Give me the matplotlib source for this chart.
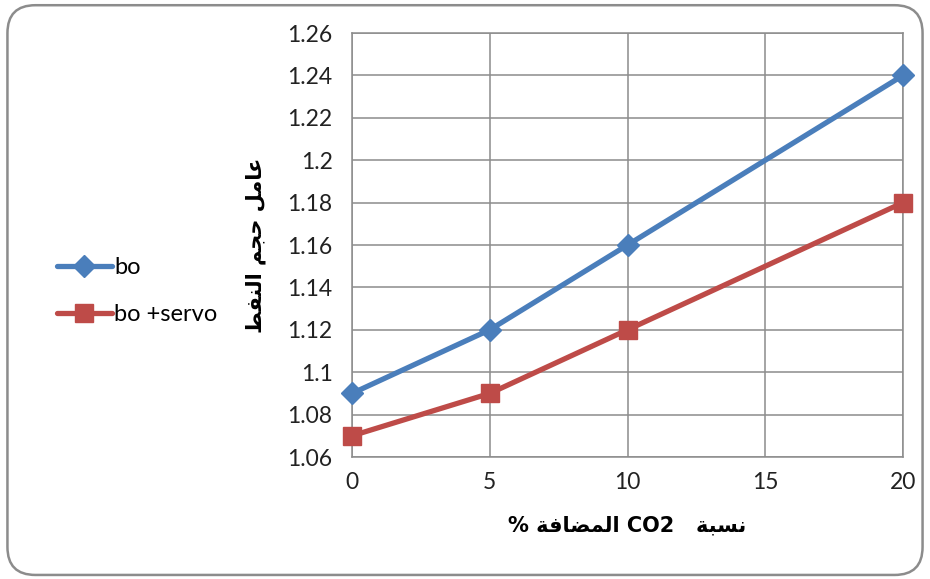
import numpy as np
import matplotlib.pyplot as plt
from matplotlib.patches import FancyBboxPatch
from matplotlib.ticker import FuncFormatter, MultipleLocator

# data
CO2_PCT    = [0, 5, 10, 20]
BO         = [1.09, 1.12, 1.16, 1.24]
BO_SERVO   = [1.07, 1.09, 1.12, 1.18]
SERIES     = ['bo', 'bo +servo']
XLABEL_AR  = 'نسبة   CO2 المضافة %'
YLABEL_AR  = 'عامل حجم النفط'

BLUE = '#4A7EBB'
RED  = '#BE4B48'
GRID = '#8C8C8C'

# matplotlib does no Arabic shaping: map letters to presentation forms
# (isolated, final, initial, medial) and lay them out right-to-left.
FORMS = {
    'ا': ('\uFE8D', '\uFE8E', None, None),
    'ب': ('\uFE8F', '\uFE90', '\uFE91', '\uFE92'),
    'ة': ('\uFE93', '\uFE94', None, None),
    'ج': ('\uFE9D', '\uFE9E', '\uFE9F', '\uFEA0'),
    'ح': ('\uFEA1', '\uFEA2', '\uFEA3', '\uFEA4'),
    'س': ('\uFEB1', '\uFEB2', '\uFEB3', '\uFEB4'),
    'ض': ('\uFEBD', '\uFEBE', '\uFEBF', '\uFEC0'),
    'ط': ('\uFEC1', '\uFEC2', '\uFEC3', '\uFEC4'),
    'ع': ('\uFEC9', '\uFECA', '\uFECB', '\uFECC'),
    'ف': ('\uFED1', '\uFED2', '\uFED3', '\uFED4'),
    'ل': ('\uFEDD', '\uFEDE', '\uFEDF', '\uFEE0'),
    'م': ('\uFEE1', '\uFEE2', '\uFEE3', '\uFEE4'),
    'ن': ('\uFEE5', '\uFEE6', '\uFEE7', '\uFEE8'),
}


def shape_word(word):
    if not any(c in FORMS for c in word):
        return word
    out = []
    for i, c in enumerate(word):
        prev = word[i - 1] if i > 0 else None
        nxt = word[i + 1] if i + 1 < len(word) else None
        j_prev = prev in FORMS and FORMS[prev][2] is not None
        j_next = nxt in FORMS and FORMS[c][2] is not None
        iso, fin, ini, med = FORMS[c]
        if j_prev and j_next:
            out.append(med)
        elif j_prev:
            out.append(fin)
        elif j_next:
            out.append(ini)
        else:
            out.append(iso)
    return ''.join(out)[::-1]


def visual(text):
    return ' '.join(shape_word(w) for w in text.split(' ')[::-1])


plt.rcParams['font.family'] = ['Lato', 'DejaVu Sans']

fig = plt.figure(figsize=(9.3, 5.79), dpi=100)
ax = fig.add_axes([0.3785, 0.2107, 0.5925, 0.7323])

ax.plot(CO2_PCT, BO, color=BLUE, lw=3.8, marker='D', ms=11,
        label=SERIES[0], solid_capstyle='round', clip_on=False, zorder=3)
ax.plot(CO2_PCT, BO_SERVO, color=RED, lw=3.8, marker='s', ms=13,
        label=SERIES[1], solid_capstyle='round', clip_on=False, zorder=3)

ax.set_xlim(0, 20)
ax.set_ylim(1.06, 1.26)
ax.xaxis.set_major_locator(MultipleLocator(5))
ax.yaxis.set_major_locator(MultipleLocator(0.02))
ax.yaxis.set_major_formatter(FuncFormatter(lambda v, _: f'{round(v, 2):g}'))
ax.grid(True, color=GRID, lw=1.1)
ax.set_axisbelow(True)
for s in ax.spines.values():
    s.set_color(GRID)
    s.set_linewidth(1.1)
ax.tick_params(length=0, labelsize=16.5, colors='#222222')
ax.tick_params(axis='y', pad=14)
ax.tick_params(axis='x', pad=11)

ax.set_xlabel(visual(XLABEL_AR), fontsize=15, weight='bold',
              family=['DejaVu Sans'], labelpad=16)
fig.text(0.275, 0.577, visual(YLABEL_AR), rotation=90, fontsize=15,
         weight='bold', family=['DejaVu Sans'], ha='center', va='center')

fig.legend(loc='center left', bbox_to_anchor=(0.038, 0.497), frameon=False,
           fontsize=17, handlelength=2.35, handletextpad=0.1,
           labelspacing=1.1)

fig.patches.append(FancyBboxPatch((0.008, 0.007), 0.984, 0.984,
                                  boxstyle='round,pad=0,rounding_size=0.03',
                                  transform=fig.transFigure, fill=False,
                                  edgecolor='#8C8C8C', lw=1.8,
                                  mutation_aspect=930 / 579))

fig.savefig('out.png', dpi=100)
